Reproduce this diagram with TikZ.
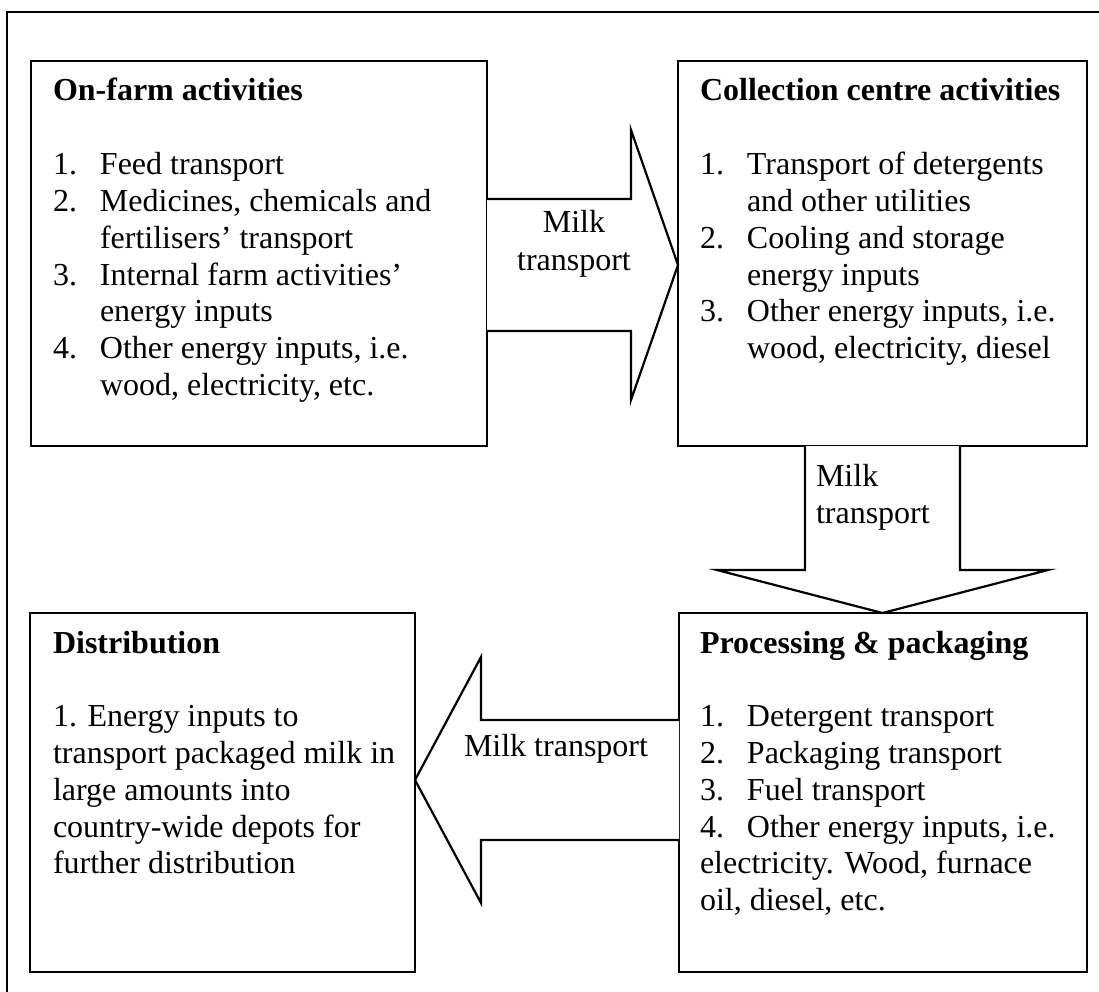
\documentclass[tikz,border=0pt]{standalone}
\usepackage{fontspec}
\setmainfont{Liberation Serif}
\usetikzlibrary{calc}

\tikzset{
  stage/.style={draw=black, line width=2.2pt, fill=white, rectangle, inner sep=0pt, outer sep=0pt, anchor=north west},
  flowarrow/.style={draw=black, line width=2.2pt, fill=white, line join=miter},
  txt/.style={inner sep=0pt, outer sep=0pt, anchor=base west, font=\fontsize{32}{36.8}\selectfont},
  head/.style={txt, font=\fontsize{32}{36.8}\selectfont\bfseries},
  frameline/.style={draw=black, line width=2.2pt}
}
% list item helpers: number in a fixed-width slot, then the item text
\newcommand\itemno[1]{\makebox[47pt][l]{#1}}

\begin{document}
\begin{tikzpicture}[x=1pt, y=-1pt]
\useasboundingbox (0,0) rectangle (1099,992);

% enclosing frame (top and left edges)
\coordinate (fr-bl) at (7,995);
\coordinate (fr-tl) at (7,12);
\coordinate (fr-tr) at (1102,12);
\draw[frameline] (fr-bl) -- (fr-tl) -- (fr-tr);

% the four stages
\node[stage, minimum width=456pt, minimum height=385pt] (farm) at (31,61) {};
\node[stage, minimum width=409pt, minimum height=385pt] (collect) at (678,61) {};
\node[stage, minimum width=385pt, minimum height=359pt] (distrib) at (30,613) {};
\node[stage, minimum width=408pt, minimum height=359pt] (process) at (679,613) {};

% block arrow: farm -> collection centre
\draw[flowarrow] (farm.east |- 0,199) -- (631,199) -- (631,130)
  -- (collect.west |- 0,265) -- (631,400) -- (631,331) -- (farm.east |- 0,331);
% block arrow: collection centre -> processing
\draw[flowarrow] (collect.south -| 805,0) -- (805,570) -- (717,570)
  -- (process.north -| 882.5,0) -- (1048,570) -- (960,570) -- (collect.south -| 960,0);
% block arrow: processing -> distribution
\draw[flowarrow] (process.west |- 0,720) -- (481,720) -- (481,657)
  -- (distrib.east |- 0,780) -- (481,903) -- (481,840) -- (process.west |- 0,840);

% arrow labels
\node[txt, anchor=base] (lab1a) at (574,233) {Milk};
\node[txt, anchor=base] (lab1b) at (574,270) {transport};
\node[txt] (lab2a) at (816,486) {Milk};
\node[txt] (lab2b) at (816,523) {transport};
\node[txt] (lab3) at (464,756) {Milk transport};

% On-farm activities
\node[head] (farm-h) at (53,101) {On-farm activities};
\node[txt] (farm-1) at (53,174.6) {\itemno{1.}Feed transport};
\node[txt] (farm-2) at (53,211.4) {\itemno{2.}Medicines, chemicals and};
\node[txt] (farm-3) at (100,248.2) {fertilisers’ transport};
\node[txt] (farm-4) at (53,285) {\itemno{3.}Internal farm activities’};
\node[txt] (farm-5) at (100,321.8) {energy inputs};
\node[txt] (farm-6) at (53,358.6) {\itemno{4.}Other energy inputs, i.e.};
\node[txt] (farm-7) at (100,395.4) {wood, electricity, etc.};

% Collection centre activities
\node[head] (col-h) at (700,101) {Collection centre activities};
\node[txt] (col-1) at (700,174.6) {\itemno{1.}Transport of detergents};
\node[txt] (col-2) at (747,211.4) {and other utilities};
\node[txt] (col-3) at (700,248.2) {\itemno{2.}Cooling and storage};
\node[txt] (col-4) at (747,285) {energy inputs};
\node[txt] (col-5) at (700,321.8) {\itemno{3.}Other energy inputs, i.e.};
\node[txt] (col-6) at (747,358.6) {wood, electricity, diesel};

% Distribution
\node[head] (dis-h) at (53,653) {Distribution};
\node[txt] (dis-1) at (53,726.6) {1. Energy inputs to};
\node[txt] (dis-2) at (53,763.4) {transport packaged milk in};
\node[txt] (dis-3) at (53,800.2) {large amounts into};
\node[txt] (dis-4) at (53,837) {country-wide depots for};
\node[txt] (dis-5) at (53,873.8) {further distribution};

% Processing & packaging
\node[head] (pro-h) at (700,653) {Processing \& packaging};
\node[txt] (pro-1) at (700,726.6) {\itemno{1.}Detergent transport};
\node[txt] (pro-2) at (700,763.4) {\itemno{2.}Packaging transport};
\node[txt] (pro-3) at (700,800.2) {\itemno{3.}Fuel transport};
\node[txt] (pro-4) at (700,837) {\itemno{4.}Other energy inputs, i.e.};
\node[txt] (pro-5) at (700,873.8) {electricity. Wood, furnace};
\node[txt] (pro-6) at (700,910.6) {oil, diesel, etc.};
\end{tikzpicture}
\end{document}
